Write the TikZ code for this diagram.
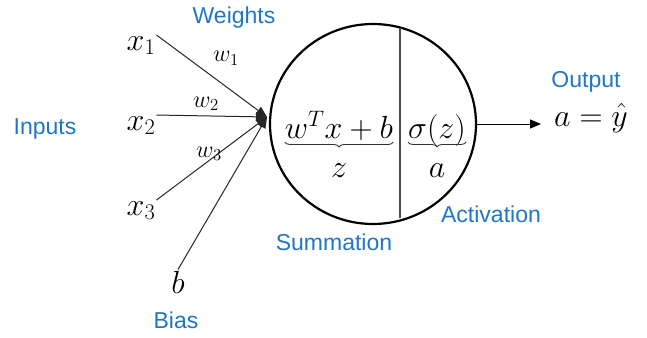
\RequirePackage{fix-cm}
\documentclass[tikz,border=0pt]{standalone}
\usepackage{amsmath}
\usepackage[no-math]{fontspec}
\setmainfont{Liberation Sans}
\usetikzlibrary{arrows.meta,shapes.geometric,decorations.pathreplacing}
\definecolor{capblue}{RGB}{31,119,196}
\tikzset{>={Triangle[length=11pt,width=9pt]},
  bluecap/.style={text=capblue,font=\fontsize{23}{27}\selectfont,anchor=base,inner sep=1pt},
  var/.style={font=\fontsize{32}{36}\selectfont,anchor=base,inner sep=1pt},
  wlbl/.style={font=\fontsize{24}{27}\selectfont,anchor=base,inner sep=0pt},
  syn/.style={line width=1pt,black!85,->},
  brace/.style={decorate,decoration={brace,amplitude=5pt},line width=.9pt,black!80}}

\begin{document}
\begin{tikzpicture}[x=1pt,y=-1pt]
\useasboundingbox (0,0) rectangle (647,337);
% neuron body
\node[draw,ellipse,line width=2.2pt,minimum width=206pt,minimum height=200pt,inner sep=0pt] (neuron) at (373,124) {};
\draw[line width=1.2pt,black!70] (400,28) -- (400,218);
\coordinate (join) at (267,117);
% inputs
\node[var] (x1) at (141,50) {$x_1$};
\node[var] (x2) at (141,130) {$x_2$};
\node[var] (x3) at (141,215) {$x_3$};
\node[var] (b) at (178,293) {$b$};
\draw[syn] (x1.north east) -- (join);
\draw[syn] (x2.north east) -- (join);
\draw[syn] (x3.north east) -- (join);
\draw[syn] (b.north) -- (join);
\node[wlbl] (w1) at (226,62) {$w_1$};
\node[wlbl] (w2) at (206,107) {$w_2$};
\node[wlbl] (w3) at (209,157) {$w_3$};
% summation and activation
\node[var,inner xsep=0pt] (sum) at (339,138) {$w^Tx+b$};
\node[var,inner xsep=0pt] (act) at (437,138) {$\sigma(z)$};
\draw[brace] ([yshift=-4pt]sum.base east) -- ([yshift=-4pt]sum.base west);
\draw[brace] ([yshift=-4pt]act.base east) -- ([yshift=-4pt]act.base west);
\node[var] (z) at (339,177) {$z$};
\node[var] (a) at (437,177) {$a$};
% output
\node[var,anchor=base west,inner xsep=13pt,inner ysep=0pt] (out) at (541,126) {$a=\hat{y}$};
\draw[line width=1pt,->] (neuron.east) -- (neuron.east -| out.west);
% captions
\node[bluecap] (weights) at (234,24) {Weights};
\node[bluecap] (inputs) at (45,134) {Inputs};
\node[bluecap] (summation) at (334,250) {Summation};
\node[bluecap] (activation) at (491,222) {Activation};
\node[bluecap] (output) at (586,87) {Output};
\node[bluecap] (bias) at (176,328) {Bias};
\end{tikzpicture}
\end{document}
